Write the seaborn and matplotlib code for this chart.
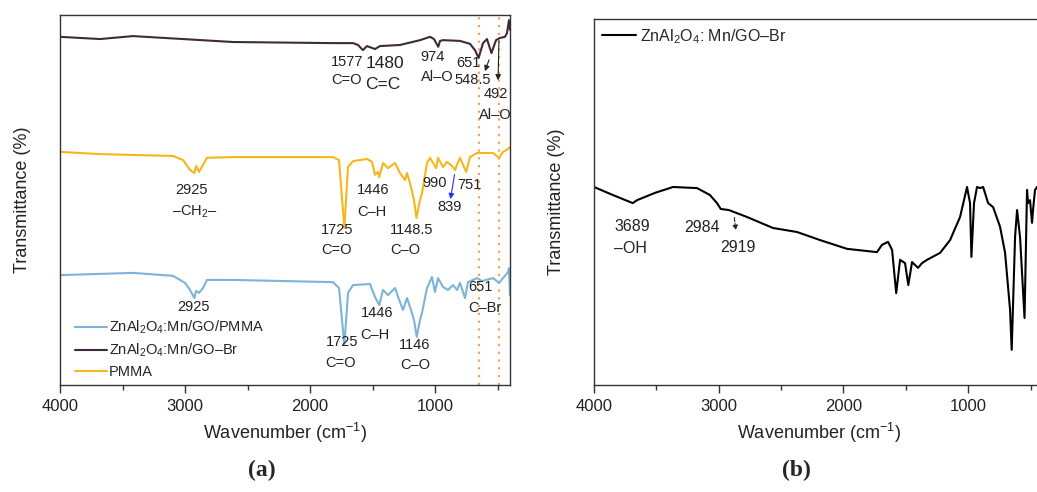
import numpy as np
import pandas as pd
import matplotlib
matplotlib.use("Agg")
import matplotlib.pyplot as plt
import seaborn as sns

# ---- FTIR spectra (wavenumber in cm-1, transmittance in stacked arbitrary units) ----
gobr_wn = [4000, 3680, 3416, 2616, 1816, 1656, 1616, 1577, 1544, 1480, 1440, 1280, 1120,
           1040, 1008, 974, 960, 936, 800, 720, 680, 651, 616, 584, 548.5, 512, 480, 440,
           424, 408, 400]
gobr_t = [94.1, 93.5, 94.3, 92.7, 92.4, 92.4, 91.9, 90.5, 91.6, 90.8, 91.6, 91.9, 93.2,
          94.1, 93.5, 91.4, 93.0, 93.2, 93.0, 92.2, 90.5, 88.4, 92.4, 93.5, 89.7, 93.2, 93.8,
          94.1, 95.1, 98.6, 96.0]

pmma_wn = [4000, 3680, 3096, 3016, 2960, 2925, 2912, 2888, 2856, 2824, 2616, 1816, 1768,
           1725, 1696, 1656, 1544, 1504, 1480, 1456, 1446, 1416, 1376, 1320, 1280, 1240,
           1224, 1192, 1168, 1148.5, 1120, 1104, 1064, 1040, 990, 976, 936, 904, 864, 839,
           824, 800, 751, 720, 664, 536, 488, 456, 416, 400]
pmma_t = [63.0, 62.4, 61.9, 60.8, 58.1, 57.3, 59.2, 57.6, 59.5, 61.4, 61.6, 61.6, 60.8,
          42.4, 58.9, 60.5, 61.1, 60.3, 56.8, 57.6, 56.2, 60.0, 58.6, 60.0, 57.3, 55.4,
          57.3, 53.5, 50.0, 45.1, 50.0, 51.9, 60.0, 61.4, 58.6, 61.4, 58.9, 60.3, 59.2, 58.1,
          59.5, 61.4, 57.6, 61.6, 62.7, 62.7, 61.4, 63.0, 63.8, 64.3]

comp_wn = [4000, 3416, 3096, 3000, 2960, 2925, 2912, 2888, 2856, 2824, 2616, 1816, 1768,
           1725, 1696, 1656, 1520, 1480, 1446, 1416, 1376, 1320, 1280, 1256, 1224, 1192,
           1168, 1146, 1120, 1104, 1064, 1024, 1000, 976, 936, 896, 856, 824, 800, 760,
           736, 664, 624, 536, 488, 456, 416, 408, 400]
comp_t = [29.7, 30.3, 29.5, 27.6, 25.7, 23.5, 25.4, 24.9, 26.2, 28.4, 28.4, 27.8, 26.2,
          10.8, 24.9, 27.0, 27.3, 23.8, 21.6, 25.7, 24.3, 26.2, 22.4, 20.3, 23.5, 20.3,
          17.6, 13.0, 17.6, 19.5, 26.2, 29.2, 25.1, 28.9, 26.5, 25.7, 27.0, 25.7, 27.6, 23.5,
          27.8, 28.9, 28.1, 28.9, 27.6, 28.9, 30.5, 31.6, 24.3]

# single spectrum of the brominated material, right panel
br_wn = [4000, 3848, 3711, 3689, 3655, 3511, 3366, 3174, 3070, 3014, 2984, 2919, 2773,
         2565, 2372, 2188, 1971, 1731, 1691, 1642, 1610, 1577, 1546, 1506, 1480, 1450,
         1402, 1370, 1330, 1225, 1145, 1065, 1009, 985, 974, 953, 929, 905, 880, 840, 800,
         744, 704, 664, 651, 624, 608, 584, 548, 528, 520, 504, 488, 480, 464, 448, 424]
br_t = [54.1, 51.9, 50.0, 49.7, 50.5, 52.5, 54.1, 53.8, 51.9, 49.7, 48.1, 47.8, 45.9,
        42.9, 41.8, 39.6, 37.2, 36.3, 38.3, 39.1, 36.9, 25.1, 34.2, 33.3, 27.3, 33.6,
        32.0, 33.3, 34.2, 36.1, 39.6, 45.9, 54.1, 49.7, 35.0, 49.7, 54.1, 53.8, 54.1, 49.7,
        48.6, 43.2, 36.1, 20.5, 9.6, 40.4, 47.8, 40.4, 18.3, 53.3, 49.7, 50.5, 44.3, 47.8,
        53.3, 54.1, 51.9]

legend_labels = ["ZnAl$_2$O$_4$:Mn/GO/PMMA", "ZnAl$_2$O$_4$:Mn/GO\u2013Br", "PMMA"]
right_label = "ZnAl$_2$O$_4$: Mn/GO\u2013Br"
x_ticks = [4000, 3000, 2000, 1000]
marker_lines = [651, 492]

c_comp = "#7db3d8"
c_gobr = "#3e2a3a"
c_pmma = "#f6b71a"
c_dot = "#f2a654"

sns.set_theme(style="ticks")
plt.rcParams["font.family"] = ["Liberation Sans", "DejaVu Sans"]
plt.rcParams["mathtext.fontset"] = "custom"
plt.rcParams["mathtext.rm"] = "Liberation Sans"
plt.rcParams["mathtext.it"] = "Liberation Sans"
plt.rcParams["mathtext.default"] = "regular"
plt.rcParams["axes.edgecolor"] = "#333333"
plt.rcParams["axes.linewidth"] = 1.0
plt.rcParams["xtick.color"] = "#333333"
plt.rcParams["xtick.labelcolor"] = "#222222"
plt.rcParams["axes.labelcolor"] = "#222222"

fig = plt.figure(figsize=(10.37, 4.92), dpi=100)
axA = fig.add_axes([60 / 1037, 107 / 492, 450 / 1037, 370 / 492])
axB = fig.add_axes([594 / 1037, 107 / 492, 449 / 1037, 366 / 492])

def spectrum(ax, wn, t, color, label, lw=1.5):
    df = pd.DataFrame({"wn": wn, "t": t})
    sns.lineplot(data=df, x="wn", y="t", ax=ax, color=color, lw=lw, label=label,
                 estimator=None, sort=False)

spectrum(axA, comp_wn, comp_t, c_comp, legend_labels[0])
spectrum(axA, gobr_wn, gobr_t, c_gobr, legend_labels[1])
spectrum(axA, pmma_wn, pmma_t, c_pmma, legend_labels[2])
for v in marker_lines:
    axA.axvline(v, color=c_dot, ls=(0, (1, 2.5)), lw=1.6, zorder=0)

spectrum(axB, br_wn, br_t, "black", right_label, lw=1.5)

for ax in (axA, axB):
    ax.set_xlim(4000, 400)
    ax.set_ylim(0, 100)
    ax.set_xticks(x_ticks)
    ax.set_xticks([3500, 2500, 1500, 500], minor=True)
    ax.set_yticks([])
    ax.tick_params(axis="x", which="major", length=6, width=1, labelsize=12, pad=4)
    ax.tick_params(axis="x", which="minor", length=3.5, width=1)
    ax.set_xlabel("Wavenumber (cm$^{-1}$)", fontsize=13, labelpad=5)
    ax.set_ylabel("Transmittance (%)", fontsize=13, labelpad=21)
    for s in ax.spines.values():
        s.set_visible(True)

leg = axA.legend(loc="lower left", bbox_to_anchor=(0.02, 0.0), frameon=False, fontsize=10.5,
                 handlelength=2.2, handletextpad=0.15, labelspacing=0.4, borderaxespad=0.0)
legB = axB.legend(loc="upper left", frameon=False, fontsize=11.5, handlelength=2.1,
                  handletextpad=0.3, borderaxespad=0.1)

fs = 10.5
def lbl(ax, x, y, s, size=fs):
    ax.text(x, y, s, ha="center", va="center", fontsize=size, color="#222222")

# brominated trace
lbl(axA, 1704, 87.3, "1577"); lbl(axA, 1704, 82.4, "C=O")
lbl(axA, 1400, 87.0, "1480", 12.5); lbl(axA, 1416, 81.1, "C=C", 12.5)
lbl(axA, 1016, 88.6, "974"); lbl(axA, 984, 83.2, "Al\u2013O")
lbl(axA, 736, 87.0, "651"); lbl(axA, 696, 82.4, "548.5")
lbl(axA, 512, 78.6, "492"); lbl(axA, 520, 73.0, "Al\u2013O")
axA.annotate("", xy=(608, 84.1), xytext=(560, 88.6),
             arrowprops=dict(arrowstyle="-|>", color="#222222", lw=0.8, mutation_scale=8))
axA.annotate("", xy=(496, 81.6), xytext=(488, 93.8),
             arrowprops=dict(arrowstyle="-|>", color="#222222", lw=0.8, mutation_scale=8))

# PMMA trace
lbl(axA, 2944, 52.7, "2925"); lbl(axA, 2920, 46.8, "\u2013CH$_2$\u2013")
lbl(axA, 1784, 41.9, "1725"); lbl(axA, 1784, 36.5, "C=O")
lbl(axA, 1496, 52.7, "1446"); lbl(axA, 1504, 46.8, "C\u2013H")
lbl(axA, 1184, 41.9, "1148.5"); lbl(axA, 1240, 36.5, "C\u2013O")
lbl(axA, 1000, 54.6, "990"); lbl(axA, 728, 54.1, "751"); lbl(axA, 880, 48.1, "839")
axA.annotate("", xy=(880, 49.5), xytext=(840, 57.6),
             arrowprops=dict(arrowstyle="-|>", color="#2b2bff", lw=0.8, mutation_scale=8))

# composite trace
lbl(axA, 2936, 21.1, "2925")
lbl(axA, 1744, 11.6, "1725"); lbl(axA, 1760, 5.9, "C=O")
lbl(axA, 1464, 19.5, "1446"); lbl(axA, 1480, 13.5, "C\u2013H")
lbl(axA, 1160, 10.8, "1146"); lbl(axA, 1160, 5.4, "C\u2013O")
lbl(axA, 640, 26.5, "651"); lbl(axA, 600, 20.8, "C\u2013Br")

# right panel labels
lbl(axB, 3695, 43.2, "3689", 11.5); lbl(axB, 3711, 37.4, "\u2013OH", 11.5)
lbl(axB, 3134, 42.9, "2984", 11.5); lbl(axB, 2845, 37.7, "2919", 11.5)
axB.annotate("", xy=(2861, 41.5), xytext=(2877, 46.5),
             arrowprops=dict(arrowstyle="-|>", color="#222222", lw=0.8, ls="--",
                             mutation_scale=7))

fig.text(262 / 1037, 1 - 470 / 492, "(a)", ha="center", va="center", fontsize=17,
         fontweight="bold", family="Liberation Serif")
fig.text(796 / 1037, 1 - 470 / 492, "(b)", ha="center", va="center", fontsize=17,
         fontweight="bold", family="Liberation Serif")

fig.savefig("out.png", dpi=100)
